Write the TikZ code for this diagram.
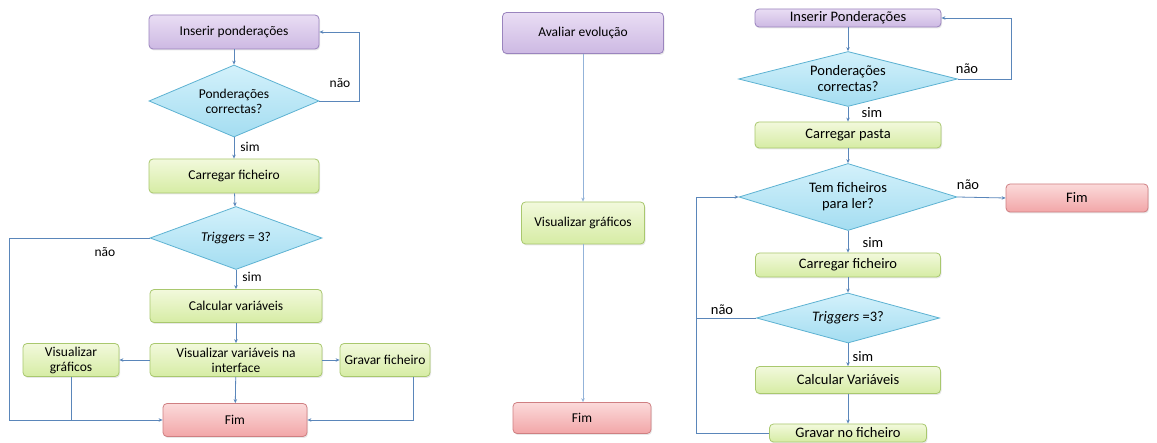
\documentclass[tikz,border=0pt]{standalone}
\usepackage{fontspec}
\setmainfont{Carlito}
\usetikzlibrary{shapes.geometric,arrows.meta,shadows}

\definecolor{lineblue}{HTML}{5A86BA}
\definecolor{linelight}{HTML}{93B3D9}
\definecolor{purpleedge}{HTML}{9A84BE}
\definecolor{purpletop}{HTML}{E9DDF4}
\definecolor{purplebot}{HTML}{CDB9E3}
\definecolor{greenedge}{HTML}{A9C86E}
\definecolor{greentop}{HTML}{F2F9DC}
\definecolor{greenbot}{HTML}{D6ECA4}
\definecolor{rededge}{HTML}{CF7F82}
\definecolor{redtop}{HTML}{FBDADA}
\definecolor{redbot}{HTML}{F2A6A8}
\definecolor{cyanedge}{HTML}{5DB2D2}
\definecolor{cyantop}{HTML}{D3F1FB}
\definecolor{cyanbot}{HTML}{A4DDF1}

\tikzset{
  box/.style={draw, line width=0.8pt, rounded corners=4pt, align=center, inner sep=1pt,
    drop shadow={opacity=0.18, shadow xshift=1pt, shadow yshift=-1.5pt}},
  startbox/.style={box, draw=purpleedge, top color=purpletop, bottom color=purplebot},
  procbox/.style={box, draw=greenedge, top color=greentop, bottom color=greenbot},
  endbox/.style={box, draw=rededge, top color=redtop, bottom color=redbot},
  decision/.style={diamond, draw=cyanedge, line width=0.8pt, top color=cyantop, bottom color=cyanbot,
    align=center, inner sep=0pt},
  flow/.style={draw=lineblue, line width=0.8pt, -{Stealth[length=4pt,width=3.5pt]}},
  wire/.style={draw=lineblue, line width=0.8pt},
  lbl/.style={inner sep=0pt}
}

\begin{document}
\begin{tikzpicture}[x=1pt,y=-1pt]
\useasboundingbox[fill=white] (0,0) rectangle (1157,443);

% Left chart
\begin{scope}[font=\fontsize{13.5}{15}\selectfont]
\node[startbox, minimum width=170pt, minimum height=34pt] (insL) at (234,32) {Inserir ponderações};
\node[decision, aspect=2, minimum width=170pt, minimum height=72pt] (decL1) at (234,101) {Ponderações\\correctas?};
\node[procbox, minimum width=170pt, minimum height=34pt] (carL) at (234,176) {Carregar ficheiro};
\node[decision, aspect=2.5, minimum width=172pt, minimum height=63pt] (decL2) at (236,238) {\textit{Triggers} = 3?};
\node[procbox, minimum width=172pt, minimum height=33pt] (calcL) at (236,306) {Calcular variáveis};
\node[procbox, minimum width=172pt, minimum height=33pt] (visL) at (236,360) {Visualizar variáveis na\\interface};
\node[procbox, minimum width=96pt, minimum height=33pt] (graL) at (71,360) {Visualizar\\gráficos};
\node[procbox, minimum width=90pt, minimum height=33pt] (gravL) at (385,360) {Gravar ficheiro};
\node[endbox, minimum width=144pt, minimum height=33pt] (fimL) at (235,420) {Fim};
\coordinate (loopL) at (9,420);

\draw[flow] (insL) -- (decL1);
\draw[flow] (decL1.east) -- ++(40,0) |- (insL.east);
\node[lbl] (naoL1) at (340,83) {não};
\draw[flow] (decL1) -- (carL);
\node[lbl] (simL1) at (250,147) {sim};
\draw[flow] (carL) -- (decL2);
\draw[flow] (decL2) -- (calcL);
\node[lbl] (simL2) at (252,277) {sim};
\draw[flow] (decL2.west) -| (loopL) -- (fimL.west);
\node[lbl] (naoL2) at (105,252) {não};
\draw[flow] (calcL) -- (visL);
\draw[flow] (visL) -- (fimL);
\draw[flow] (visL) -- (graL);
\draw[flow] (visL) -- (gravL);
\draw[wire] (graL.south) -- (graL.south |- fimL.west);
\draw[flow] ([xshift=28pt]gravL.south) |- (fimL.east);
\end{scope}

% Middle chart
\begin{scope}[font=\fontsize{13.5}{15}\selectfont]
\node[startbox, minimum width=161pt, minimum height=41pt] (avaM) at (583,33) {Avaliar evolução};
\node[procbox, minimum width=123pt, minimum height=42pt] (graM) at (583,223) {Visualizar gráficos};
\node[endbox, minimum width=138pt, minimum height=31pt] (fimM) at (582,418) {Fim};
\draw[flow, draw=linelight] (avaM) -- (graM);
\draw[flow, draw=linelight] (graM) -- (graM |- fimM.north);
\end{scope}

% Right chart
\begin{scope}[font=\fontsize{14.5}{16}\selectfont]
\node[startbox, minimum width=186pt, minimum height=18pt] (insR) at (848,18) {Inserir Ponderações};
\node[decision, aspect=4, minimum width=219pt, minimum height=55pt] (decR1) at (848,79) {Ponderações\\correctas?};
\node[procbox, minimum width=186pt, minimum height=26pt] (pasR) at (848,135) {Carregar pasta};
\node[decision, aspect=3, minimum width=218pt, minimum height=67pt] (decR2) at (848,197) {Tem ficheiros\\para ler?};
\node[endbox, minimum width=142pt, minimum height=28pt] (fimR) at (1077,198) {Fim};
\node[procbox, minimum width=185pt, minimum height=24pt] (carR) at (848,265) {Carregar ficheiro};
\node[decision, aspect=3, minimum width=183pt, minimum height=50pt] (decR3) at (848,318) {\textit{Triggers} =3?};
\node[procbox, minimum width=185pt, minimum height=27pt] (calcR) at (848,380) {Calcular Variáveis};
\node[procbox, minimum width=157pt, minimum height=18pt] (gravR) at (848,433) {Gravar no ficheiro};
\coordinate (loopR) at (696,0);

\draw[flow] (insR) -- (decR1);
\draw[flow] (decR1.east) -- ++(53,0) |- (insR.east);
\node[lbl] (naoR1) at (967,69) {não};
\draw[flow] (decR1) -- (pasR);
\node[lbl] (simR1) at (872,113) {sim};
\draw[flow] (pasR) -- (decR2);
\draw[flow] (decR2.east) -- (fimR.west);
\node[lbl] (naoR2) at (968,185) {não};
\draw[flow] (decR2) -- (carR);
\node[lbl] (simR2) at (873,243) {sim};
\draw[flow] (carR) -- (decR3);
\draw[flow] (decR3) -- (calcR);
\node[lbl] (simR3) at (863,357) {sim};
\draw[flow] (calcR) -- (gravR);
\draw[wire] (decR3.west) -- (decR3.west -| loopR);
\node[lbl] (naoR3) at (722,310) {não};
\draw[flow] (gravR.west) -- (gravR.west -| loopR) |- (decR2.west);
\end{scope}
\end{tikzpicture}
\end{document}
